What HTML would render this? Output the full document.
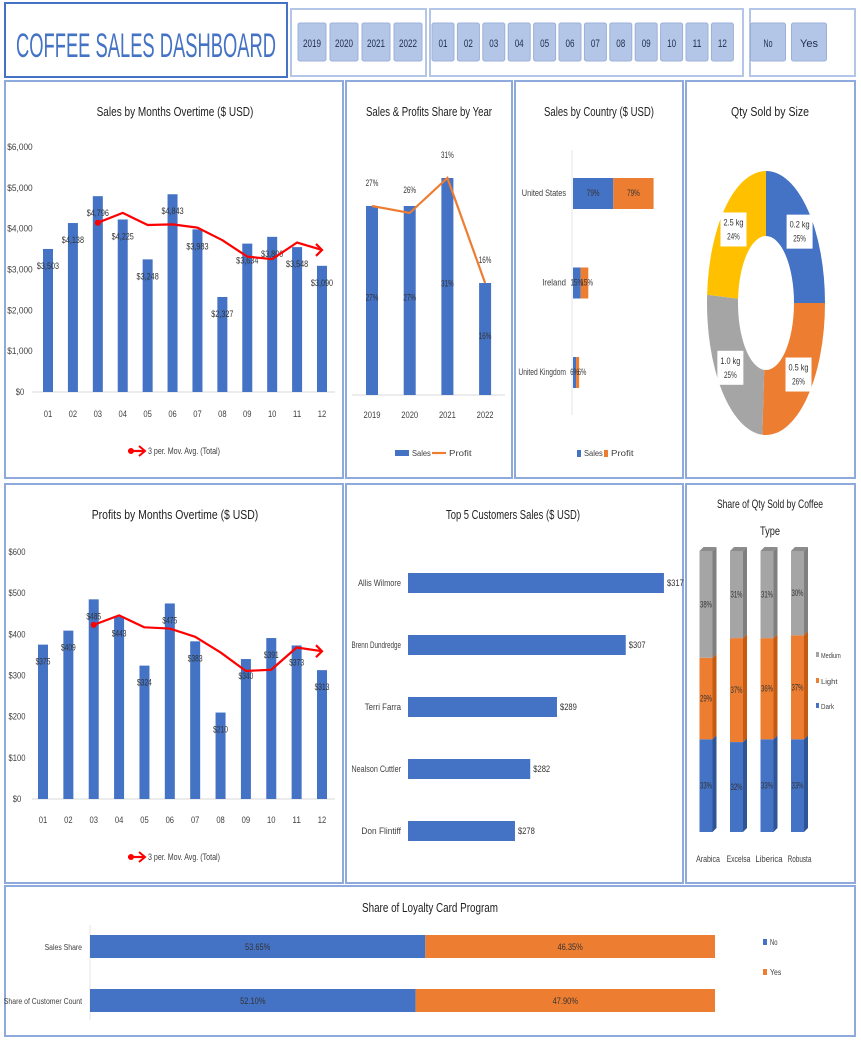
<!DOCTYPE html>
<html><head><meta charset="utf-8"><title>Coffee Sales Dashboard</title>
<style>
html,body{margin:0;padding:0;background:#fff;}
svg{display:block;font-family:"Liberation Sans",sans-serif;}
</style></head>
<body>
<svg id="dash" width="861" height="1043" viewBox="0 0 861 1043" xmlns="http://www.w3.org/2000/svg"></svg>
<script>
// ---------- data ----------
const years = ["2019","2020","2021","2022"];
const months = ["01","02","03","04","05","06","07","08","09","10","11","12"];
const loyaltyOpts = ["No","Yes"];
const monthlySales = [3503,4138,4796,4225,3248,4843,3983,2327,3634,3800,3548,3090];
const salesLabels = ["$3,503","$4,138","$4,796","$4,225","$3,248","$4,843","$3,983","$2,327","$3,634","$3,800","$3,548","$3,090"];
const salesMovAvg = [null,null,4146,4386,4090,4105,4025,3718,3315,3254,3661,3479];
const salesTicks = [0,1000,2000,3000,4000,5000,6000];
const monthlyProfit = [375,409,485,443,324,475,383,210,340,391,373,313];
const profitMovAvg = [null,null,423,446,417,414,394,356,311,314,368,359];
const profitTicks = [0,100,200,300,400,500,600];
const yearSalesShare = [27,27,31,16];
const yearProfitShare = [27,26,31,16];
const countries = ["United States","Ireland","United Kingdom"];
const countrySales = [79,15,6];
const countryProfit = [79,15,6];
const sizes = ["0.2 kg","0.5 kg","1.0 kg","2.5 kg"];
const sizeShare = [25,26,25,24];
const customers = ["Allis Wilmore","Brenn Dundredge","Terri Farra","Nealson Cuttler","Don Flintiff"];
const customerSales = [317,307,289,282,278];
const coffeeTypes = ["Arabica","Excelsa","Liberica","Robusta"];
const roastDark = [33,32,33,33];
const roastLight = [29,37,36,37];
const roastMedium = [38,31,31,30];
const loyaltyCats = ["Sales Share","Share of Customer Count"];
const loyaltyNo = [53.65,52.10];
const loyaltyYes = [46.35,47.90];

// ---------- helpers ----------
const NS="http://www.w3.org/2000/svg";
const svg=document.getElementById('dash');
const BLUE="#4472C4",ORANGE="#ED7D31",GRAY="#A5A5A5",YEL="#FFC000",RED="#FF0000",TXT="#404040";
function mk(tag,attrs,parent){const e=document.createElementNS(NS,tag);for(const k in attrs)e.setAttribute(k,attrs[k]);(parent||svg).appendChild(e);return e;}
function txt(x,y,s,size,anchor,fill,parent,len){const t=mk('text',{x:x,y:y,'font-size':size,'text-anchor':anchor||'middle',fill:fill||TXT},parent);
  const L=len||s.length*size*0.47;
  t.setAttribute('textLength',L);t.setAttribute('lengthAdjust','spacingAndGlyphs');t.textContent=s;return t;}

// ---------- header ----------
let g=mk('g',{});


mk('rect',{x:5,y:3,width:282,height:74,fill:'#fff',stroke:'#4472C4','stroke-width':2},g);
txt(146,57,"COFFEE SALES DASHBOARD",34,'middle','#4472C4',g,260);

function slicer(name,x,w,items,centers,bw){
  const sg=mk('g',{});
  
  
  mk('rect',{x:x,y:9,width:w,height:67,fill:'#fff',stroke:'#B4C6E7','stroke-width':2},sg);
  items.forEach((it,i)=>{
    const b=mk('g',{},sg);
    
    
    mk('rect',{x:centers(i)-bw/2,y:23,width:bw,height:38,rx:2,fill:'#B4C6E7',stroke:'#9BB0D8','stroke-width':1},b);
    txt(centers(i),47,it,11,'middle','#203050',b,it.length>2?18:9);
  });
}
slicer('year-slicer',291,135,years,i=>312+i*32,28);
slicer('month-slicer',430,313,months,i=>443+i*25.4,22);
slicer('loyalty-slicer',750,105,loyaltyOpts,i=>768+i*41,35);

// ---------- panels ----------
function panel(name,x,y,w,h){const p=mk('rect',{x:x,y:y,width:w,height:h,fill:'#fff',stroke:'#8EA9DB','stroke-width':2});}
panel('sales-by-month-panel',5,81,338,397);
panel('share-by-year-panel',346,81,166,397);
panel('sales-by-country-panel',515,81,168,397);
panel('qty-by-size-panel',686,81,169,397);
panel('profit-by-month-panel',5,484,338,399);
panel('top-customers-panel',346,484,337,399);
panel('coffee-type-panel',686,484,169,399);
panel('loyalty-panel',5,886,850,150);

// ---------- monthly bar charts ----------
function monthChart(prefix,title,titleY,vals,labels,ma,ticks,tickFmt,y0,yTop,x0,x12,xlabY,legY,ylabX){
  const maxT=ticks[ticks.length-1];
  const Y=v=>y0-(v/maxT)*(y0-yTop);
  const X=i=>x0+i*(x12-x0)/(vals.length-1);
  const cg=mk('g',{});
  
  
  const tt=txt(175,titleY,title,13,'middle','#222',cg,title.length*4.9);
  
  
  ticks.forEach(t=>{txt(ylabX,Y(t)+3,tickFmt(t),9,'middle',TXT,cg);});
  mk('line',{x1:32,x2:335,y1:y0,y2:y0,stroke:'#D9D9D9','stroke-width':1},cg);
  vals.forEach((v,i)=>{
    const r=mk('rect',{x:X(i)-5,y:Y(v),width:10,height:y0-Y(v),fill:BLUE},cg);
    
    
    txt(X(i),xlabY,months[i],9,'middle',TXT,cg);
  });
  vals.forEach((v,i)=>{txt(X(i),Y(v)+20,labels[i],9,'middle','#333',cg,labels[i].length*3.7);});
  let d="";ma.forEach((v,i)=>{if(v==null)return;d+=(d?" L":"M")+X(i)+" "+Y(v);});
  const line=mk('path',{d:d,fill:'none',stroke:RED,'stroke-width':2.2,'stroke-linejoin':'round'},cg);
  
  
  const fi=ma.findIndex(v=>v!=null);
  mk('circle',{cx:X(fi),cy:Y(ma[fi]),r:3,fill:RED},cg);
  const li=ma.length-1;
  mk('path',{d:`M${X(li)-6} ${Y(ma[li])-6} L${X(li)} ${Y(ma[li])} L${X(li)-6} ${Y(ma[li])+6}`,fill:'none',stroke:RED,'stroke-width':2.2},cg);
  const lg=mk('g',{},cg);
  
  
  mk('line',{x1:128,x2:144,y1:legY-3,y2:legY-3,stroke:RED,'stroke-width':2.2},lg);
  mk('circle',{cx:131,cy:legY-3,r:3,fill:RED},lg);
  mk('path',{d:`M139 ${legY-8} L145 ${legY-3} L139 ${legY+2}`,fill:'none',stroke:RED,'stroke-width':2},lg);
  txt(148,legY,"3 per. Mov. Avg. (Total)",9,'start',TXT,lg,72);
}
monthChart('sales','Sales by Months Overtime ($ USD)',116,monthlySales,salesLabels,salesMovAvg,salesTicks,t=>'$'+t.toLocaleString('en-US'),392,147,48,322,417,454,20);
monthChart('profit','Profits by Months Overtime ($ USD)',519,monthlyProfit,monthlyProfit.map(v=>'$'+v),profitMovAvg,profitTicks,t=>'$'+t,799,552,43,322,823,860,17);

// ---------- share by year ----------
(function(){
  const cg=mk('g',{});
  
  
  txt(429,116,"Sales & Profits Share by Year",13,'middle','#222',cg,126);
  const y0=395,k=7.0,X=i=>372+i*37.7,Y=v=>y0-v*k;
  mk('line',{x1:352,x2:505,y1:y0,y2:y0,stroke:'#D9D9D9'},cg);
  yearSalesShare.forEach((v,i)=>{
    const r=mk('rect',{x:X(i)-6,y:Y(v),width:12,height:v*k,fill:BLUE},cg);
    
    
    txt(X(i),Y(v)+v*k*0.5,v+'%',9,'middle','#333',cg);
    txt(X(i),418,years[i],9,'middle',TXT,cg);
  });
  const d=yearProfitShare.map((v,i)=>(i?'L':'M')+X(i)+' '+Y(v)).join(' ');
  const pl=mk('path',{d:d,fill:'none',stroke:ORANGE,'stroke-width':2.2},cg);
  
  
  yearProfitShare.forEach((v,i)=>txt(X(i),Y(v)-20,v+'%',9,'middle','#333',cg));
  mk('rect',{x:395,y:450,width:14,height:6,fill:BLUE},cg);
  txt(412,456,"Sales",8,'start',TXT,cg);
  mk('line',{x1:432,x2:446,y1:453,y2:453,stroke:ORANGE,'stroke-width':2.2},cg);
  txt(449,456,"Profit",8,'start',TXT,cg);
})();

// ---------- sales by country ----------
(function(){
  const cg=mk('g',{});
  
  
  txt(599,116,"Sales by Country ($ USD)",13,'middle','#222',cg,110);
  const x0=573,k=0.51,Yc=i=>193+i*89.5;
  mk('line',{x1:572,x2:572,y1:150,y2:415,stroke:'#E5E5E5'},cg);
  countries.forEach((c,i)=>{
    const ws=countrySales[i]*k,wp=countryProfit[i]*k;
    const b=mk('rect',{x:x0,y:Yc(i)-15,width:ws,height:31,fill:BLUE},cg);
    
    
    const o=mk('rect',{x:x0+ws,y:Yc(i)-15,width:wp,height:31,fill:ORANGE},cg);
    
    
    txt(566,Yc(i)+3,c,9,'end',TXT,cg,c.length*3.4);
    txt(x0+ws/2,Yc(i)+3,countrySales[i]+'%',9,'middle','#333',cg);
    txt(x0+ws+Math.max(wp/2,6),Yc(i)+3,countryProfit[i]+'%',9,'middle','#333',cg);
  });
  mk('rect',{x:577,y:450,width:4,height:7,fill:BLUE},cg);
  txt(584,456,"Sales",8,'start',TXT,cg);
  mk('rect',{x:604,y:450,width:4,height:7,fill:ORANGE},cg);
  txt(611,456,"Profit",8,'start',TXT,cg);
})();

// ---------- donut ----------
(function(){
  const cg=mk('g',{});
  
  
  txt(770,116,"Qty Sold by Size",13,'middle','#222',cg,78);
  const cx=766,cy=303,rx=59,ry=132,irx=28,iry=67,cols=[BLUE,ORANGE,GRAY,YEL];
  const tot=sizeShare.reduce((a,b)=>a+b,0);
  let a=0;
  const P=(ang,ax,ay)=>[cx+ax*Math.sin(ang),cy-ay*Math.cos(ang)];
  sizeShare.forEach((v,i)=>{
    const a1=a,a2=a+v/tot*2*Math.PI;a=a2;
    const lg=(a2-a1)>Math.PI?1:0;
    const p1=P(a1,rx,ry),p2=P(a2,rx,ry),p3=P(a2,irx,iry),p4=P(a1,irx,iry);
    const s=mk('path',{d:`M${p1} A${rx} ${ry} 0 ${lg} 1 ${p2} L${p3} A${irx} ${iry} 0 ${lg} 0 ${p4} Z`,fill:cols[i]},cg);
    
    
    const m=(a1+a2)/2,lp=P(m,(rx+irx)/2+4,(ry+iry)/2);
    mk('rect',{x:lp[0]-13,y:lp[1]-18,width:26,height:34,fill:'#fff'},cg);
    txt(lp[0],lp[1]-5,sizes[i],9,'middle','#333',cg,20);
    txt(lp[0],lp[1]+9,v+'%',9,'middle','#333',cg);
  });
})();

// ---------- top customers ----------
(function(){
  const cg=mk('g',{});
  
  
  txt(513,519,"Top 5 Customers Sales ($ USD)",13,'middle','#222',cg,134);
  const minV=250,k=3.82,x0=408,Yc=i=>583+i*62;
  customers.forEach((c,i)=>{
    const w=(customerSales[i]-minV)*k;
    const b=mk('rect',{x:x0,y:Yc(i)-10,width:w,height:20,fill:BLUE},cg);
    
    
    txt(401,Yc(i)+3,c,9,'end',TXT,cg,c.length*3.3);
    txt(x0+w+3,Yc(i)+3,'$'+customerSales[i],9,'start','#333',cg);
  });
})();

// ---------- coffee type stacked 3D ----------
(function(){
  const cg=mk('g',{});
  
  
  txt(770,508,"Share of Qty Sold by Coffee",12,'middle','#222',cg,106);
  txt(770,535,"Type",12,'middle','#222',cg,20);
  const y0=832,k=2.81,X=i=>706+i*30.5,bw=13,dp=4;
  const series=[[roastDark,BLUE,'#2F5597'],[roastLight,ORANGE,'#C55A11'],[roastMedium,GRAY,'#7F7F7F']];
  coffeeTypes.forEach((t,i)=>{
    let base=y0;
    series.forEach(([arr,c,dc],si)=>{
      const h=arr[i]*k,top=base-h;
      mk('polygon',{points:`${X(i)+bw/2},${top} ${X(i)+bw/2+dp},${top-dp} ${X(i)+bw/2+dp},${base-dp} ${X(i)+bw/2},${base}`,fill:dc},cg);
      const r=mk('rect',{x:X(i)-bw/2,y:top,width:bw,height:h,fill:c},cg);
      
      
      if(si==2)mk('polygon',{points:`${X(i)-bw/2},${top} ${X(i)-bw/2+dp},${top-dp} ${X(i)+bw/2+dp},${top-dp} ${X(i)+bw/2},${top}`,fill:'#8C8C8C'},cg);
      txt(X(i),top+h/2+3,arr[i]+'%',9,'middle','#333',cg,12);
      base=top;
    });
    txt(X(i)+2,862,t,9,'middle',TXT,cg,t.length*3.4);
  });
  [['Medium',GRAY,658],['Light',ORANGE,684],['Dark',BLUE,709]].forEach(([n,c,y])=>{
    mk('rect',{x:816,y:y-6,width:3,height:5,fill:c},cg);
    txt(821,y,n,7,'start',TXT,cg);
  });
})();

// ---------- loyalty ----------
(function(){
  const cg=mk('g',{});
  
  
  txt(430,912,"Share of Loyalty Card Program",13,'middle','#222',cg,136);
  const x0=90,W=625,Yc=i=>947+i*54;
  mk('line',{x1:x0,x2:x0,y1:925,y2:1020,stroke:'#E5E5E5'},cg);
  loyaltyCats.forEach((c,i)=>{
    const wn=loyaltyNo[i]/100*W,wy=loyaltyYes[i]/100*W;
    const b=mk('rect',{x:x0,y:Yc(i)-12,width:wn,height:23,fill:BLUE},cg);
    
    
    const o=mk('rect',{x:x0+wn,y:Yc(i)-12,width:wy,height:23,fill:ORANGE},cg);
    
    
    txt(82,Yc(i)+3,c,8,'end',TXT,cg,c.length*3.4);
    txt(x0+wn/2,Yc(i)+3,loyaltyNo[i].toFixed(2)+'%',9,'middle','#333',cg);
    txt(x0+wn+wy/2,Yc(i)+3,loyaltyYes[i].toFixed(2)+'%',9,'middle','#333',cg);
  });
  mk('rect',{x:763,y:939,width:4,height:6,fill:BLUE},cg);
  txt(770,945,"No",8,'start',TXT,cg);
  mk('rect',{x:763,y:969,width:4,height:6,fill:ORANGE},cg);
  txt(770,975,"Yes",8,'start',TXT,cg);
})();
</script>
</body></html>
